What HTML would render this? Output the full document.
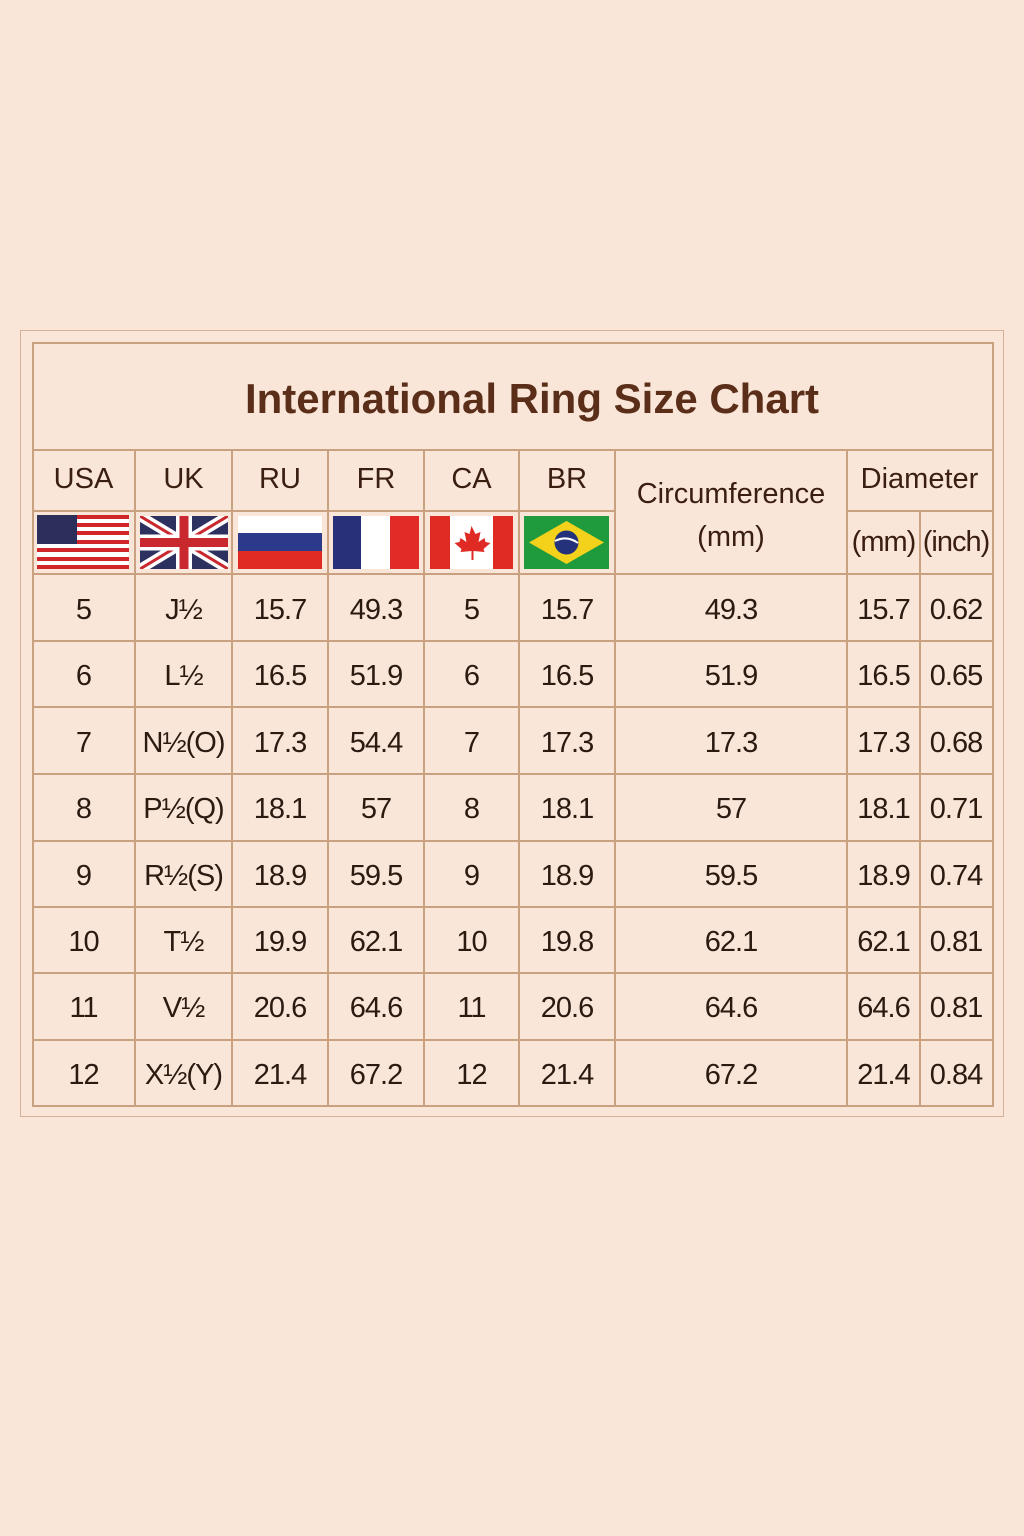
<!DOCTYPE html>
<html><head><meta charset="utf-8"><style>
body{margin:0;width:1024px;height:1536px;background:#f9e6d9;position:relative;overflow:hidden;font-family:"Liberation Sans",sans-serif;color:#2b1a10}
.l{position:absolute;background:#c9a080}
.t{position:absolute;text-align:center;font-size:29px;letter-spacing:-1px}
.h{position:absolute;text-align:center;font-size:29px;color:#3a1e10}
svg{position:absolute}
</style></head><body>
<div style="position:absolute;left:20px;top:330px;width:982px;height:785px;border:1px solid #d4b29a"></div>
<div style="position:absolute;left:32px;top:342px;width:958px;height:761px;border:2px solid #c9a080"></div>
<div class="h" style="left:32px;top:375px;width:1000px;font-size:42px;color:#5a2e18;font-weight:bold">International Ring Size Chart</div>
<div class="l" style="left:32px;top:449px;width:960px;height:2px"></div>
<div class="l" style="left:32px;top:510px;width:583px;height:2px"></div>
<div class="l" style="left:847px;top:510px;width:145px;height:2px"></div>
<div class="l" style="left:32px;top:573px;width:960px;height:2px"></div>
<div class="l" style="left:32px;top:640px;width:960px;height:2px"></div>
<div class="l" style="left:32px;top:706px;width:960px;height:2px"></div>
<div class="l" style="left:32px;top:773px;width:960px;height:2px"></div>
<div class="l" style="left:32px;top:840px;width:960px;height:2px"></div>
<div class="l" style="left:32px;top:906px;width:960px;height:2px"></div>
<div class="l" style="left:32px;top:972px;width:960px;height:2px"></div>
<div class="l" style="left:32px;top:1039px;width:960px;height:2px"></div>
<div class="l" style="left:134px;top:450px;width:2px;height:655px"></div>
<div class="l" style="left:231px;top:450px;width:2px;height:655px"></div>
<div class="l" style="left:327px;top:450px;width:2px;height:655px"></div>
<div class="l" style="left:423px;top:450px;width:2px;height:655px"></div>
<div class="l" style="left:518px;top:450px;width:2px;height:655px"></div>
<div class="l" style="left:614px;top:450px;width:2px;height:655px"></div>
<div class="l" style="left:846px;top:450px;width:2px;height:655px"></div>
<div class="l" style="left:919px;top:511px;width:2px;height:594px"></div>
<div class="h" style="left:32px;top:463px;width:103px">USA</div>
<div class="h" style="left:135px;top:463px;width:97px">UK</div>
<div class="h" style="left:232px;top:463px;width:96px">RU</div>
<div class="h" style="left:328px;top:463px;width:96px">FR</div>
<div class="h" style="left:424px;top:463px;width:95px">CA</div>
<div class="h" style="left:519px;top:463px;width:96px">BR</div>
<div class="h" style="left:615px;top:478px;width:232px">Circumference</div>
<div class="h" style="left:615px;top:521px;width:232px">(mm)</div>
<div class="h" style="left:847px;top:463px;width:145px">Diameter</div>
<div class="h" style="left:847px;top:526px;width:73px;letter-spacing:-1px">(mm)</div>
<div class="h" style="left:920px;top:526px;width:72px;letter-spacing:-1px">(inch)</div>
<svg style="left:37px;top:515px" width="92" height="54" viewBox="0 0 92 54">
<rect width="92" height="54" fill="#fff"/>
<g fill="#d0262a"><rect y="0" width="92" height="4"/><rect y="8" width="92" height="4"/><rect y="16" width="92" height="4"/><rect y="25" width="92" height="4"/><rect y="33" width="92" height="4"/><rect y="42" width="92" height="4"/><rect y="50" width="92" height="4"/></g>
<rect width="40" height="29" fill="#2b2f5a"/></svg>
<svg style="left:140px;top:516px" width="88" height="53" viewBox="0 0 88 53">
<rect width="88" height="53" fill="#2c3160"/>
<path d="M0 0L88 53M88 0L0 53" stroke="#fff" stroke-width="10"/>
<path d="M0 0L88 53M88 0L0 53" stroke="#c8282e" stroke-width="3"/>
<path d="M44 0V53M0 26.5H88" stroke="#fff" stroke-width="16"/>
<path d="M44 0V53M0 26.5H88" stroke="#c8282e" stroke-width="9"/></svg>
<svg style="left:238px;top:516px" width="84" height="53" viewBox="0 0 84 53">
<rect width="84" height="53" fill="#fff"/><rect y="17" width="84" height="18" fill="#2c3a8c"/><rect y="35" width="84" height="18" fill="#e02a24"/></svg>
<svg style="left:333px;top:516px" width="86" height="53" viewBox="0 0 86 53">
<rect width="86" height="53" fill="#fff"/><rect width="28" height="53" fill="#28307a"/><rect x="57" width="29" height="53" fill="#e22a26"/></svg>
<svg style="left:430px;top:516px" width="83" height="53" viewBox="0 0 83 53">
<rect width="83" height="53" fill="#fff"/><rect width="20" height="53" fill="#e02a24"/><rect x="63" width="20" height="53" fill="#e02a24"/>
<path d="M41.5 10l4 8 5-2-2 10 6-4 1 4 5 1-7 6 1 3-11-1v9h-2v-9l-11 1 1-3-7-6 5-1 1-4 6 4-2-10 5 2z" fill="#e02a24"/></svg>
<svg style="left:524px;top:516px" width="85" height="53" viewBox="0 0 85 53">
<rect width="85" height="53" fill="#1f9a3c"/><path d="M42.5 5L80 26.5 42.5 48 5 26.5z" fill="#f4d21c"/><circle cx="42.5" cy="26.5" r="12" fill="#23327a"/><path d="M31 25q12-6 23 2" stroke="#fff" stroke-width="2" fill="none"/></svg>
<div id="d"></div>
<script>
var rows=[["5","J½","15.7","49.3","5","15.7","49.3","15.7","0.62"],
["6","L½","16.5","51.9","6","16.5","51.9","16.5","0.65"],
["7","N½(O)","17.3","54.4","7","17.3","17.3","17.3","0.68"],
["8","P½(Q)","18.1","57","8","18.1","57","18.1","0.71"],
["9","R½(S)","18.9","59.5","9","18.9","59.5","18.9","0.74"],
["10","T½","19.9","62.1","10","19.8","62.1","62.1","0.81"],
["11","V½","20.6","64.6","11","20.6","64.6","64.6","0.81"],
["12","X½(Y)","21.4","67.2","12","21.4","67.2","21.4","0.84"]];
var xs=[32,135,232,328,424,519,615,847,920,992];
var h="";
rows.forEach(function(r,i){var y=594+i*66.4;
r.forEach(function(c,j){h+='<div class="t" style="left:'+xs[j]+'px;top:'+y+'px;width:'+(xs[j+1]-xs[j])+'px">'+c+'</div>';});});
document.getElementById("d").innerHTML=h;
</script>
</body></html>
